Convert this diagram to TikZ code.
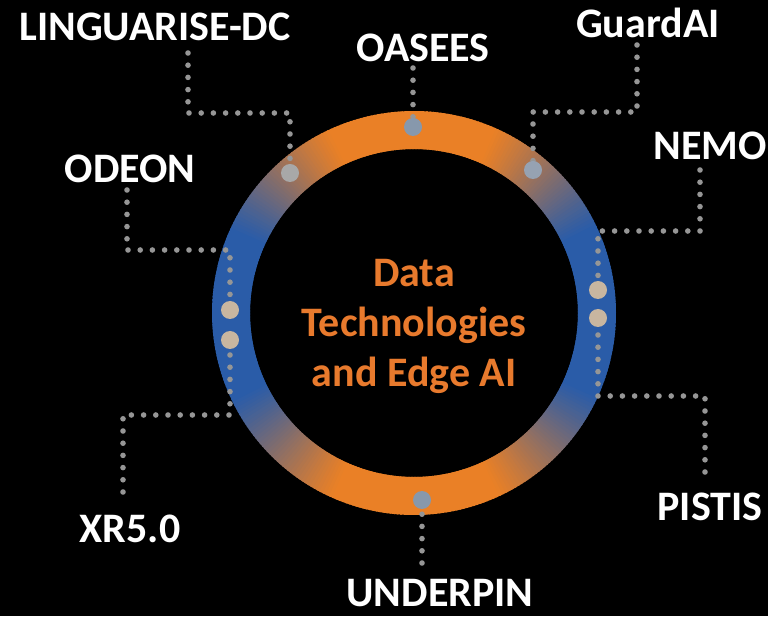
\documentclass[tikz,border=0pt]{standalone}
\usepackage{fontspec}
\setmainfont{Carlito}
\definecolor{ringor}{RGB}{234,128,38}
\definecolor{ringbl}{RGB}{42,92,168}
\definecolor{txtor}{RGB}{232,122,45}
\definecolor{dotgrey}{RGB}{150,150,150}
\definecolor{onor}{RGB}{135,152,172}
\definecolor{onbl}{RGB}{200,182,160}
\definecolor{onmid}{RGB}{168,168,168}
\definecolor{onmixor}{RGB}{150,162,178}
\begin{document}
\begin{tikzpicture}[x=1pt,y=1pt,
  lbl/.style={text=white, font=\fontsize{42}{42}\selectfont\bfseries, anchor=base, inner sep=0pt},
  ctr/.style={text=txtor, font=\fontsize{42}{50}\selectfont\bfseries, align=center, inner sep=0pt},
  bigdot/.style={circle, minimum size=18pt, inner sep=0pt},
  link/.style={draw=dotgrey, line width=5.6pt, line cap=round, dash pattern=on 0pt off 12.2pt}]
\fill[black] (0,0) rectangle (768,616);
\useasboundingbox (0,0) rectangle (768,616);
% ring with angular gradient
\foreach \a in {0,1,...,359}{
  \pgfmathsetmacro\p{max(0,min(100,100*(sin(\a)^2-0.18)/0.65))}
  \draw[line width=38pt, draw=ringor!\p!ringbl, shift={(414,303)}] (\a:183) arc (\a:\a+1.6:183);
}
% centre text
\node[ctr] (title) at (414,290) {Data\\Technologies\\and Edge AI};
% labels
\node[lbl] (LDC) at (155,575) {LINGUARISE-DC};
\node[lbl] (OAS) at (423,554) {OASEES};
\node[lbl] (GAI) at (648,578) {GuardAI};
\node[lbl] (NEM) at (710,456) {NEMO};
\node[lbl] (ODE) at (130,433) {ODEON};
\node[lbl] (XR)  at (130,74)  {XR5.0};
\node[lbl] (UND) at (440,10)  {UNDERPIN};
\node[lbl] (PIS) at (710,96)  {PISTIS};
% ring dots (positions)
\node[bigdot] (dL) at (290,443) {};
\node[bigdot] (dO) at (413,489) {};
\node[bigdot] (dG) at (533,446) {};
\node[bigdot] (dN) at (598,326) {};
\node[bigdot] (dP) at (598,298) {};
\node[bigdot] (dD) at (230,306) {};
\node[bigdot] (dX) at (230,276) {};
\node[bigdot] (dU) at (422,116) {};
% connector start points and corners
\coordinate (sL) at (188,563); \coordinate (kL) at (290,503);
\coordinate (sO) at (413,548);
\coordinate (sG) at (637,571); \coordinate (kG) at (533,504);
\coordinate (sN) at (700,446); \coordinate (kN) at (598,385);
\coordinate (sP) at (705,144); \coordinate (kP) at (598,220);
\coordinate (sD) at (127,426); \coordinate (kD) at (230,366);
\coordinate (sX) at (123,124); \coordinate (kX) at (230,201);
\coordinate (sU) at (422,53);
% connectors
\draw[link] (sL) |- (kL) -- (dL);
\draw[link] (sO) -- (dO);
\draw[link] (sG) |- (kG) -- (dG);
\draw[link] (sN) |- (kN) -- (dN);
\draw[link] (sP) |- (kP) -- (dP);
\draw[link] (sD) |- (kD) -- (dD);
\draw[link] (sX) |- (kX) -- (dX);
\draw[link] (sU) -- (dU);
% dots drawn on top
\fill[onmid] (dL) circle (9);
\fill[onor] (dO) circle (9);
\fill[onmixor] (dG) circle (9);
\fill[onbl] (dN) circle (9);
\fill[onbl] (dP) circle (9);
\fill[onbl] (dD) circle (9);
\fill[onbl] (dX) circle (9);
\fill[onor] (dU) circle (9);
\end{tikzpicture}
\end{document}
